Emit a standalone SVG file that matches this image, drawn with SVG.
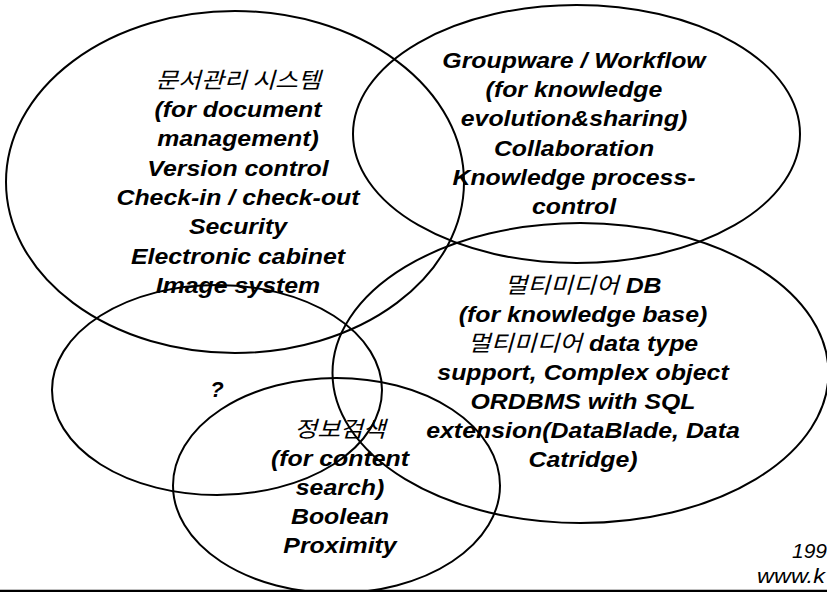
<svg xmlns="http://www.w3.org/2000/svg" width="827" height="592" viewBox="0 0 827 592">
  <style>
    .ring { fill: none; stroke: #000; stroke-width: 2; }
    .t { font-family: "Liberation Sans", Arial, "Noto Sans CJK KR", sans-serif; font-size: 22px; font-weight: bold; font-style: italic; fill: #000; text-anchor: middle; }
    .k { font-family: "Noto Sans CJK KR", "Liberation Sans", sans-serif; font-weight: normal; font-style: italic; }
    .n { font-family: "Liberation Sans", Arial, sans-serif; font-size: 21px; font-style: italic; fill: #000; }
  </style>
  <rect width="827" height="592" fill="#fff"/>

  <g id="doc-management">
    <ellipse class="ring" cx="235" cy="182" rx="229" ry="171"/>
    <g transform="translate(238,0) scale(1.13,1)">
      <text class="t" x="0" y="88"><tspan class="k">문서관리 시스템</tspan></text>
      <text class="t" x="0" y="117">(for document</text>
      <text class="t" x="0" y="146">management)</text>
      <text class="t" x="0" y="176">Version control</text>
      <text class="t" x="0" y="205">Check-in / check-out</text>
      <text class="t" x="0" y="234">Security</text>
      <text class="t" x="0" y="264">Electronic cabinet</text>
      <text class="t" x="0" y="293">Image system</text>
    </g>
  </g>

  <g id="groupware">
    <ellipse class="ring" cx="576.5" cy="134" rx="223.5" ry="129"/>
    <g transform="translate(574,0) scale(1.13,1)">
      <text class="t" x="0" y="68">Groupware / Workflow</text>
      <text class="t" x="0" y="97">(for knowledge</text>
      <text class="t" x="0" y="126">evolution&amp;sharing)</text>
      <text class="t" x="0" y="156">Collaboration</text>
      <text class="t" x="0" y="185">Knowledge process-</text>
      <text class="t" x="0" y="214">control</text>
    </g>
  </g>

  <g id="unknown">
    <ellipse class="ring" cx="217" cy="390" rx="165" ry="105"/>
    <text class="t" x="217" y="397">?</text>
  </g>

  <g id="multimedia-db">
    <ellipse class="ring" cx="580.5" cy="373" rx="248" ry="150"/>
    <g transform="translate(583,0) scale(1.13,1)">
      <text class="t" x="0" y="293"><tspan class="k">멀티미디어</tspan> DB</text>
      <text class="t" x="0" y="322">(for knowledge base)</text>
      <text class="t" x="0" y="351"><tspan class="k">멀티미디어</tspan> data type</text>
      <text class="t" x="0" y="380">support, Complex object</text>
      <text class="t" x="0" y="409">ORDBMS with SQL</text>
      <text class="t" x="0" y="438">extension(DataBlade, Data</text>
      <text class="t" x="0" y="467">Catridge)</text>
    </g>
  </g>

  <g id="info-retrieval">
    <ellipse class="ring" cx="336.5" cy="485.5" rx="163.5" ry="107.5"/>
    <g transform="translate(340,0) scale(1.13,1)">
      <text class="t" x="0" y="437"><tspan class="k">정보검색</tspan></text>
      <text class="t" x="0" y="466">(for content</text>
      <text class="t" x="0" y="495">search)</text>
      <text class="t" x="0" y="524">Boolean</text>
      <text class="t" x="0" y="553">Proximity</text>
    </g>
  </g>

  <g id="connectors"></g>

  <g id="footer">
    <text class="n" x="792" y="558">199</text>
    <text class="n" x="757" y="583" transform="translate(757,0) scale(1.12,1) translate(-757,0)">www.k</text>
    <line x1="0" y1="591" x2="827" y2="591" stroke="#000" stroke-width="2.5"/>
  </g>
</svg>
